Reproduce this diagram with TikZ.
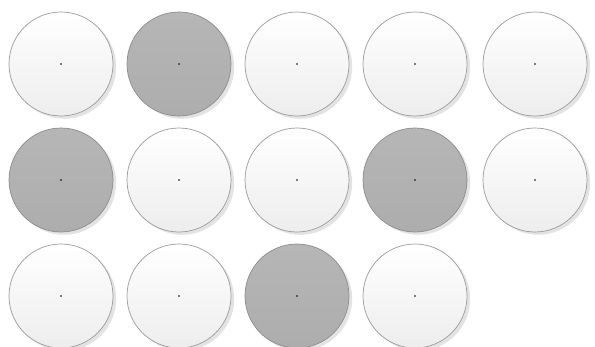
\documentclass[tikz,border=0pt]{standalone}
\usetikzlibrary{shadows}
\definecolor{discgray}{HTML}{B6B6B6}
\definecolor{rimgray}{HTML}{9A9A9A}
\begin{document}
\begin{tikzpicture}[x=0.5mm, y=-0.5mm,
    disc/.style={circle, draw=rimgray, line width=0.35mm, minimum size=52mm, inner sep=0pt,
      top color=white, bottom color=black!7,
      drop shadow={opacity=0.18, shadow xshift=1.6mm, shadow yshift=-1.4mm, fill=black!60}},
    darkdisc/.style={disc, draw=black!45, top color=discgray, bottom color=discgray!95!black},
    pin/.style={circle, fill=black, inner sep=0pt, minimum size=0.9mm}]
    \useasboundingbox (0,0) rectangle (595,346);

    % row 1
    \node[disc] (a1) at (61,64) {};
    \node[darkdisc] (a2) at (179,64) {};
    \node[disc] (a3) at (297,64) {};
    \node[disc] (a4) at (415,64) {};
    \node[disc] (a5) at (535,64) {};
    % row 2
    \node[darkdisc] (b1) at (61,180) {};
    \node[disc] (b2) at (179,180) {};
    \node[disc] (b3) at (297,180) {};
    \node[darkdisc] (b4) at (415,180) {};
    \node[disc] (b5) at (535,180) {};
    % row 3
    \node[disc] (c1) at (61,296) {};
    \node[disc] (c2) at (179,296) {};
    \node[darkdisc] (c3) at (297,296) {};
    \node[disc] (c4) at (415,296) {};

    \foreach \n in {a1,a2,a3,a4,a5,b1,b2,b3,b4,b5,c1,c2,c3,c4}
        \node[pin] (p\n) at (\n.center) {};
\end{tikzpicture}
\end{document}
